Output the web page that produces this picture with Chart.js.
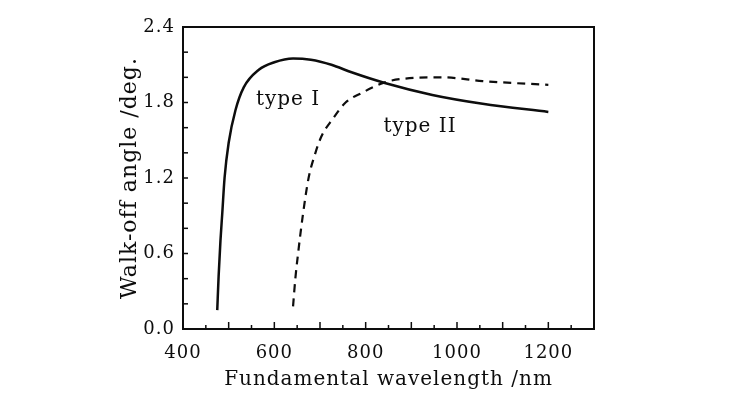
<!DOCTYPE html>
<html><head><meta charset="utf-8">
<script src="https://cdn.jsdelivr.net/npm/chart.js@4/dist/chart.umd.min.js"></script>
<style>html,body{margin:0;padding:0;background:#fff}canvas{display:block}</style>
</head><body>
<canvas id="c" width="741" height="399"></canvas>
<script>
// Type I curve (solid)
const typeIWavelength = [475, 478, 482, 486, 491, 500, 515, 533, 566, 600, 641, 680, 725, 769, 842, 946, 1056, 1200];
const typeIAngle      = [0.15, 0.42, 0.70, 0.92, 1.20, 1.48, 1.74, 1.92, 2.06, 2.12, 2.15, 2.14, 2.10, 2.04, 1.955, 1.86, 1.79, 1.725];
// Type II curve (dashed)
const typeIIWavelength = [641, 646, 652, 663, 675, 690, 703, 728, 756, 791, 842, 886, 968, 1056, 1200];
const typeIIAngle      = [0.18, 0.40, 0.60, 0.92, 1.20, 1.40, 1.53, 1.67, 1.80, 1.875, 1.96, 1.99, 2.00, 1.97, 1.94];
// Labelled tick values
const xLabelValues = [400, 600, 800, 1000, 1200];
const yLabelValues = [0.0, 0.6, 1.2, 1.8, 2.4];
const curveNames = ['type I', 'type II'];
const curveNamePos = [[630, 1.82], [919, 1.61]];

const FONT = '"DejaVu Serif", "Liberation Serif", serif';
const INK = '#0d0d0d';

function toXY(xs, ys){ return xs.map((x,i)=>({x:x, y:ys[i]})); }

const spacingPlugin = {
  id: 'spacing',
  beforeDraw(chart){ chart.ctx.letterSpacing = '1px'; }
};

const framePlugin = {
  id: 'frame',
  afterDatasetsDraw(chart){
    const {ctx, chartArea:a, scales:{x, y}} = chart;
    ctx.save();
    ctx.strokeStyle = INK;
    ctx.lineWidth = 2;
    ctx.strokeRect(a.left, a.top, a.right - a.left, a.bottom - a.top);
    ctx.lineWidth = 1.5;
    x.ticks.forEach(t => {
      const px = x.getPixelForValue(t.value);
      const len = (Math.round(t.value) % 100 === 0) ? 7 : 4;
      ctx.beginPath(); ctx.moveTo(px, a.bottom); ctx.lineTo(px, a.bottom - len); ctx.stroke();
    });
    y.ticks.forEach(t => {
      const py = y.getPixelForValue(t.value);
      ctx.beginPath(); ctx.moveTo(a.left, py); ctx.lineTo(a.left + 5, py); ctx.stroke();
    });
    ctx.fillStyle = INK;
    ctx.font = '20px ' + FONT;
    ctx.letterSpacing = '1px';
    ctx.textAlign = 'center';
    ctx.textBaseline = 'middle';
    curveNames.forEach((n, i) => {
      ctx.fillText(n, x.getPixelForValue(curveNamePos[i][0]), y.getPixelForValue(curveNamePos[i][1]));
    });
    ctx.restore();
  }
};

const isMultiple = (v, list) => list.some(l => Math.abs(v - l) < 1e-6);

new Chart(document.getElementById('c'), {
  type: 'scatter',
  data: {
    datasets: [
      { label: curveNames[0], data: toXY(typeIWavelength, typeIAngle), showLine: true,
        borderColor: INK, borderWidth: 2.5, pointRadius: 0, cubicInterpolationMode: 'monotone', fill: false },
      { label: curveNames[1], data: toXY(typeIIWavelength, typeIIAngle), showLine: true,
        borderColor: INK, borderWidth: 2.2, borderDash: [8, 6], pointRadius: 0, cubicInterpolationMode: 'monotone', fill: false }
    ]
  },
  options: {
    responsive: false,
    animation: false,
    devicePixelRatio: 1,
    layout: { padding: { left: 0, top: 27, right: 147, bottom: 0 } },
    plugins: { legend: { display: false }, tooltip: { enabled: false } },
    scales: {
      x: {
        type: 'linear', min: 400, max: 1300,
        grid: { display: false, drawTicks: false },
        border: { display: false },
        ticks: {
          stepSize: 50, autoSkip: false, maxRotation: 0, padding: 14,
          color: INK, font: { family: FONT, size: 18 },
          callback: v => isMultiple(v, xLabelValues) ? String(Math.round(v)) : ''
        },
        title: { display: true, text: 'Fundamental wavelength /nm', color: INK,
          font: { family: FONT, size: 20 }, padding: { top: 0, bottom: 7 } },
        afterFit: s => { s.height = 70; }
      },
      y: {
        type: 'linear', min: 0, max: 2.4,
        grid: { display: false, drawTicks: false },
        border: { display: false },
        ticks: {
          stepSize: 0.2, autoSkip: false, padding: 8,
          color: INK, font: { family: FONT, size: 18 },
          callback: v => isMultiple(v, yLabelValues) ? v.toFixed(1) : ''
        },
        title: { display: true, text: 'Walk-off angle /deg.', color: INK,
          font: { family: FONT, size: 22 }, padding: { top: 117, bottom: 0 } },
        afterFit: s => { s.width = 183; }
      }
    }
  },
  plugins: [spacingPlugin, framePlugin]
});
</script>
</body></html>
